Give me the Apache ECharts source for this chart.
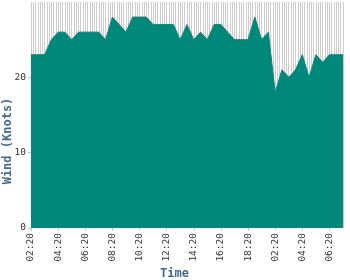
<!DOCTYPE html>
<html>
<head>
<meta charset="utf-8">
<script src="https://cdn.jsdelivr.net/npm/echarts@6/dist/echarts.min.js"></script>
<style>html,body{margin:0;padding:0;background:#fff}#c{width:350px;height:280px}</style>
</head>
<body>
<div id="c"></div>
<script>
// Half-hourly timestamps (a data gap occurs overnight)
const times = [
  "02:20","02:50","03:20","03:50","04:20","04:50","05:20","05:50",
  "06:20","06:50","07:20","07:50","08:20","08:50","09:20","09:50",
  "10:20","10:50","11:20","11:50","12:20","12:50","13:20","13:50",
  "14:20","14:50","15:20","15:50","16:20","16:50","17:20","17:50",
  "18:20","18:50","19:20","19:50","02:20","02:50","03:20","03:50",
  "04:20","04:50","05:20","05:50","06:20","06:50","07:20"
];
// Wind speed in knots
const wind = [
  23,23,23,25,26,26,25,26,26,26,26,25,28,27,26,28,
  28,28,27,27,27,27,25,27,25,26,25,27,27,26,25,25,
  25,28,25,26,18,21,20,21,23,20,23,22,23,23,23
];
const yTicks = [0, 10, 20, 30];
const gridSubdivisions = 3; // vertical guide lines every 10 minutes

const font = "DejaVu Sans Mono";
const chart = echarts.init(document.getElementById('c'), null, {renderer: 'canvas'});
chart.setOption({
  animation: false,
  grid: {left: 31, right: 7, top: 2, bottom: 52, containLabel: false, outerBoundsMode: 'none'},
  xAxis: [
    {
      type: 'category',
      data: times,
      boundaryGap: false,
      name: 'Time',
      nameLocation: 'middle',
      nameGap: 40,
      nameMoveOverlap: false,
      nameTextStyle: {fontFamily: font, fontWeight: 'bold', fontSize: 12, color: '#456a8f', padding: [0, 25, 0, 0]},
      axisLine: {show: false},
      axisTick: {show: true, interval: 3, length: 3, lineStyle: {color: '#c8c8c8'}},
      axisLabel: {interval: 3, rotate: 90, margin: 5, fontFamily: font, fontSize: 9.5, color: '#333'},
      splitLine: {show: false}
    },
    {
      type: 'value',
      min: 0,
      max: times.length - 1,
      interval: 1,
      show: true,
      axisLine: {show: false},
      axisTick: {show: false},
      axisLabel: {show: false},
      minorTick: {show: false, splitNumber: gridSubdivisions},
      splitLine: {show: true, lineStyle: {color: '#cccccc', width: 1}},
      minorSplitLine: {show: true, lineStyle: {color: '#cccccc', width: 1}}
    }
  ],
  yAxis: {
    type: 'value',
    min: yTicks[0],
    max: yTicks[yTicks.length - 1],
    interval: yTicks[1] - yTicks[0],
    name: 'Wind (Knots)',
    nameLocation: 'middle',
    nameGap: 17,
    nameMoveOverlap: false,
    nameTextStyle: {fontFamily: font, fontWeight: 'bold', fontSize: 12, color: '#456a8f', padding: [0, 52, 0, 0]},
    axisLine: {show: false},
    axisTick: {show: true, length: 3, lineStyle: {color: '#c8c8c8'}},
    axisLabel: {margin: 5, fontFamily: font, fontSize: 9.5, color: '#333', showMaxLabel: false},
    splitLine: {show: false}
  },
  series: [{
    type: 'line',
    xAxisIndex: 0,
    data: wind,
    showSymbol: false,
    lineStyle: {color: '#00897b', width: 1},
    areaStyle: {color: '#00897b', opacity: 1},
    itemStyle: {color: '#00897b'}
  }]
});
</script>
</body>
</html>
